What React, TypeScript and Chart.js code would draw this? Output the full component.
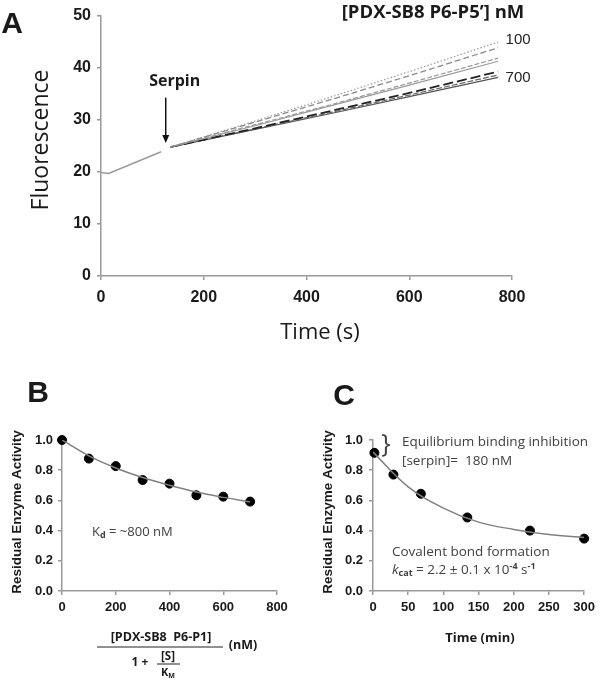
import React, { useEffect, useRef } from "react";
import { Chart, registerables } from "chart.js";
Chart.register(...registerables);

const TICK_FONT = "'Liberation Sans', Arial, sans-serif";
const TEXT_FONT = "'Open Sans', sans-serif";
const AXIS_COLOR = "#9a9a9a";
const TEXT_COLOR = "#1a1a1a";
const NOTE_COLOR = "#404040";

// ---------- Panel A data ----------
const timeBefore = [0, 15, 117];
const fluorBefore = [19.9, 19.7, 23.9];
const timeAfter = [135, 300, 450, 600, 773];
const concLabels = ["100", "200", "300", "400", "500", "600", "700"];
const fluor100 = [24.8, 29.8, 34.5, 39.3, 45.0];
const fluor200 = [24.8, 29.6, 34.0, 38.5, 43.9];
const fluor300 = [24.8, 29.1, 33.0, 37.1, 41.9];
const fluor400 = [24.8, 28.9, 32.8, 36.7, 41.3];
const fluor500 = [24.8, 28.4, 31.8, 35.2, 39.3];
const fluor600 = [24.8, 28.3, 31.5, 34.8, 38.65];
const fluor700 = [24.8, 28.2, 31.3, 34.5, 38.2];
const serpinArrowTime = 126;
const serpinArrowFluor = [34.3, 25.6];

// ---------- Panel B data ----------
const bConc = [0, 100, 200, 300, 400, 500, 600, 700];
const bActivity = [1.0, 0.877, 0.827, 0.735, 0.711, 0.634, 0.625, 0.592];
const bFitConc = [0, 100, 200, 300, 400, 500, 600, 700];
const bFitActivity = [1.0, 0.895, 0.815, 0.752, 0.7, 0.655, 0.62, 0.59];

// ---------- Panel C data ----------
const cTime = [2, 29, 68, 134, 223, 300];
const cActivity = [0.915, 0.771, 0.644, 0.487, 0.4, 0.347];
const cFitTime = [0, 50, 100, 150, 200, 250, 300];
const cFitActivity = [0.92, 0.69, 0.549, 0.456, 0.408, 0.374, 0.354];

const pts = (xs: number[], ys: number[]) => xs.map((x, i) => ({ x, y: ys[i] }));

type Run = { t: string; font: string; dy?: number; color?: string };
function drawRuns(ctx: CanvasRenderingContext2D, runs: Run[], x: number, y: number, align: "left" | "center" = "left", color = TEXT_COLOR) {
  ctx.save();
  ctx.textBaseline = "middle";
  ctx.textAlign = "left";
  let total = 0;
  for (const r of runs) {
    ctx.font = r.font;
    total += ctx.measureText(r.t).width;
  }
  let cx = align === "center" ? x - total / 2 : x;
  for (const r of runs) {
    ctx.font = r.font;
    ctx.fillStyle = r.color || color;
    ctx.fillText(r.t, cx, y + (r.dy || 0));
    cx += ctx.measureText(r.t).width;
  }
  ctx.restore();
}
function drawText(ctx: CanvasRenderingContext2D, t: string, x: number, y: number, font: string, color = TEXT_COLOR, align: CanvasTextAlign = "center", rotate = 0) {
  ctx.save();
  ctx.translate(x, y);
  if (rotate) ctx.rotate(rotate);
  ctx.font = font;
  ctx.fillStyle = color;
  ctx.textAlign = align;
  ctx.textBaseline = "middle";
  ctx.fillText(t, 0, 0);
  ctx.restore();
}

function axisOpts(min: number, max: number, step: number, fontSize: number, pad: number, fit: (s: any) => void, fmt?: (v: number) => string) {
  return {
    type: "linear" as const,
    min,
    max,
    afterFit: fit,
    ticks: {
      stepSize: step,
      font: { family: TICK_FONT, size: fontSize, weight: "bold" as const },
      color: TEXT_COLOR,
      padding: pad,
      callback: fmt ? (v: any) => fmt(Number(v)) : (v: any) => String(v),
    },
    grid: { drawOnChartArea: false, drawTicks: true, tickLength: 4, color: AXIS_COLOR, lineWidth: 1.5 },
    border: { color: AXIS_COLOR, width: 1.5 },
  };
}

const lineStyles = [
  { color: "#9a9a9a", dash: [1.5, 2], width: 1.2 },
  { color: "#8a8a8a", dash: [6, 3], width: 1.3 },
  { color: "#9a9a9a", dash: [5, 2], width: 1.2 },
  { color: "#9a9a9a", dash: [], width: 1.2 },
  { color: "#222222", dash: [10, 4], width: 1.8 },
  { color: "#666666", dash: [6, 2], width: 1.2 },
  { color: "#555555", dash: [], width: 1.2 },
];

export default function App() {
  const aRef = useRef<HTMLCanvasElement>(null);
  const bRef = useRef<HTMLCanvasElement>(null);
  const cRef = useRef<HTMLCanvasElement>(null);

  useEffect(() => {
    const series = [fluor100, fluor200, fluor300, fluor400, fluor500, fluor600, fluor700];
    const aPlugin = {
      id: "aText",
      afterDraw(chart: any) {
        const ctx = chart.ctx as CanvasRenderingContext2D;
        const xs = chart.scales.x, ys = chart.scales.y;
        const px = xs.getPixelForValue(serpinArrowTime);
        const y1 = ys.getPixelForValue(serpinArrowFluor[0]);
        const y2 = ys.getPixelForValue(serpinArrowFluor[1]);
        ctx.save();
        ctx.strokeStyle = "#111";
        ctx.fillStyle = "#111";
        ctx.lineWidth = 1.5;
        ctx.beginPath();
        ctx.moveTo(px, y1);
        ctx.lineTo(px, y2 - 6);
        ctx.stroke();
        ctx.beginPath();
        ctx.moveTo(px - 3.5, y2 - 8);
        ctx.lineTo(px + 3.5, y2 - 8);
        ctx.lineTo(px, y2);
        ctx.closePath();
        ctx.fill();
        ctx.restore();
        drawText(ctx, "Serpin", px + 9, y1 - 16, `bold 16px ${TEXT_FONT}`);
        const ex = xs.getPixelForValue(timeAfter[timeAfter.length - 1]) + 20;
        drawText(ctx, concLabels[0], ex, ys.getPixelForValue(fluor100[fluor100.length - 1]) - 2, `15px ${TICK_FONT}`, "#222");
        drawText(ctx, concLabels[6], ex, ys.getPixelForValue(fluor700[fluor700.length - 1]), `15px ${TICK_FONT}`, "#222");
        drawText(ctx, "[PDX-SB8 P6-P5\u2019] nM", 433, 13, `bold 18.5px ${TEXT_FONT}`);
        drawText(ctx, "A", 12, 25, `bold 30px ${TICK_FONT}`);
        drawText(ctx, "Fluorescence", 41, 140, `23px ${TEXT_FONT}`, TEXT_COLOR, "center", -Math.PI / 2);
        drawText(ctx, "Time (s)", 320, 333, `22px ${TEXT_FONT}`);
      },
    };

    const chartA = new Chart(aRef.current!, {
      type: "line",
      data: {
        datasets: [
          {
            data: pts(timeBefore, fluorBefore),
            borderColor: "#9a9a9a",
            borderWidth: 1.5,
            pointRadius: 0,
            fill: false,
          },
          ...series.map((s, i) => ({
            data: pts(timeAfter, s),
            borderColor: lineStyles[i].color,
            borderDash: lineStyles[i].dash,
            borderWidth: lineStyles[i].width,
            pointRadius: 0,
            fill: false,
          })),
        ],
      },
      options: {
        responsive: false,
        animation: false,
        layout: { padding: { left: 0, right: 88, top: 16, bottom: 0 } },
        plugins: { legend: { display: false }, tooltip: { enabled: false } },
        scales: {
          x: axisOpts(0, 800, 200, 16, 8, (s: any) => { s.height = 69; }),
          y: axisOpts(0, 50, 10, 16, 6, (s: any) => { s.width = 101; }),
        },
      } as any,
      plugins: [aPlugin],
    });

    const dotStyle = { pointRadius: 4.5, pointBackgroundColor: "#000", pointBorderColor: "#000", showLine: false, clip: false as any };
    const fitStyle = { borderColor: "#808080", borderWidth: 1.5, pointRadius: 0, showLine: true, tension: 0.4, fill: false };

    const yFmt = (v: number) => v.toFixed(1);
    const yTitleFont = `bold 13.5px ${TICK_FONT}`;

    const bPlugin = {
      id: "bText",
      afterDraw(chart: any) {
        const ctx = chart.ctx as CanvasRenderingContext2D;
        drawText(ctx, "B", 38, 49, `bold 30px ${TICK_FONT}`);
        drawText(ctx, "Residual Enzyme Activity", 17, 167, yTitleFont, TEXT_COLOR, "center", -Math.PI / 2);
        drawRuns(ctx, [
          { t: "K", font: `13px ${TEXT_FONT}` },
          { t: "d", font: `bold 9px ${TEXT_FONT}`, dy: 3 },
          { t: " = ~800 nM", font: `13px ${TEXT_FONT}` },
        ], 92, 187, "left", NOTE_COLOR);
        drawText(ctx, "[PDX-SB8  P6-P1]", 161, 292, `bold 12.5px ${TEXT_FONT}`);
        ctx.save();
        ctx.strokeStyle = "#222";
        ctx.lineWidth = 1;
        ctx.beginPath();
        ctx.moveTo(97, 302);
        ctx.lineTo(223, 302);
        ctx.moveTo(157, 319);
        ctx.lineTo(180, 319);
        ctx.stroke();
        ctx.restore();
        drawText(ctx, "(nM)", 243, 300, `bold 12.5px ${TEXT_FONT}`);
        drawText(ctx, "1 +", 140, 318, `bold 12px ${TEXT_FONT}`);
        drawText(ctx, "[S]", 168, 312, `bold 11.5px ${TEXT_FONT}`);
        drawRuns(ctx, [
          { t: "K", font: `bold 11px ${TEXT_FONT}` },
          { t: "M", font: `bold 7px ${TEXT_FONT}`, dy: 3 },
        ], 168, 328, "center");
      },
    };

    const chartB = new Chart(bRef.current!, {
      type: "scatter",
      data: {
        datasets: [
          { data: pts(bFitConc, bFitActivity), ...fitStyle },
          { data: pts(bConc, bActivity), ...dotStyle },
        ],
      },
      options: {
        responsive: false,
        animation: false,
        layout: { padding: { left: 0, right: 23, top: 95, bottom: 0 } },
        plugins: { legend: { display: false }, tooltip: { enabled: false } },
        scales: {
          x: axisOpts(0, 800, 200, 13, 5, (s: any) => { s.height = 94; }),
          y: axisOpts(0, 1, 0.2, 13, 5, (s: any) => { s.width = 62; }, yFmt),
        },
      } as any,
      plugins: [bPlugin],
    });

    const cPlugin = {
      id: "cText",
      afterDraw(chart: any) {
        const ctx = chart.ctx as CanvasRenderingContext2D;
        drawText(ctx, "C", 44, 52, `bold 30px ${TICK_FONT}`);
        drawText(ctx, "Residual Enzyme Activity", 28, 167, yTitleFont, TEXT_COLOR, "center", -Math.PI / 2);
        drawText(ctx, "}", 86, 100, `25px ${TEXT_FONT}`, NOTE_COLOR);
        drawText(ctx, "Equilibrium binding inhibition", 102, 97, `13.5px ${TEXT_FONT}`, NOTE_COLOR, "left");
        drawText(ctx, "[serpin]=  180 nM", 102, 116, `13.5px ${TEXT_FONT}`, NOTE_COLOR, "left");
        drawText(ctx, "Covalent bond formation", 92, 207, `13.5px ${TEXT_FONT}`, NOTE_COLOR, "left");
        drawRuns(ctx, [
          { t: "k", font: `italic 13.5px ${TEXT_FONT}` },
          { t: "cat", font: `bold 9px ${TEXT_FONT}`, dy: 3 },
          { t: " = 2.2 \u00b1 0.1 x 10", font: `13.5px ${TEXT_FONT}` },
          { t: "-4", font: `bold 9px ${TEXT_FONT}`, dy: -4 },
          { t: " s", font: `13.5px ${TEXT_FONT}` },
          { t: "-1", font: `bold 9px ${TEXT_FONT}`, dy: -4 },
        ], 92, 225, "left", NOTE_COLOR);
        drawText(ctx, "Time (min)", 180, 293, `bold 13px ${TEXT_FONT}`);
      },
    };

    const chartC = new Chart(cRef.current!, {
      type: "scatter",
      data: {
        datasets: [
          { data: pts(cFitTime, cFitActivity), ...fitStyle },
          { data: pts(cTime, cActivity), ...dotStyle },
        ],
      },
      options: {
        responsive: false,
        animation: false,
        layout: { padding: { left: 0, right: 12, top: 95, bottom: 0 } },
        plugins: { legend: { display: false }, tooltip: { enabled: false } },
        scales: {
          x: axisOpts(0, 300, 50, 13, 5, (s: any) => { s.height = 94; }),
          y: axisOpts(0, 1, 0.2, 13, 6, (s: any) => { s.width = 73; }, yFmt),
        },
      } as any,
      plugins: [cPlugin],
    });

    return () => {
      chartA.destroy();
      chartB.destroy();
      chartC.destroy();
    };
  }, []);

  return (
    <div style={{ position: "absolute", left: 0, top: 0, width: 600, height: 685, background: "#fff", overflow: "hidden" }}>
      <canvas ref={aRef} width={600} height={345} style={{ position: "absolute", left: 0, top: 0, width: 600, height: 345 }} />
      <canvas ref={bRef} width={300} height={340} style={{ position: "absolute", left: 0, top: 345, width: 300, height: 340 }} />
      <canvas ref={cRef} width={300} height={340} style={{ position: "absolute", left: 300, top: 345, width: 300, height: 340 }} />
    </div>
  );
}
